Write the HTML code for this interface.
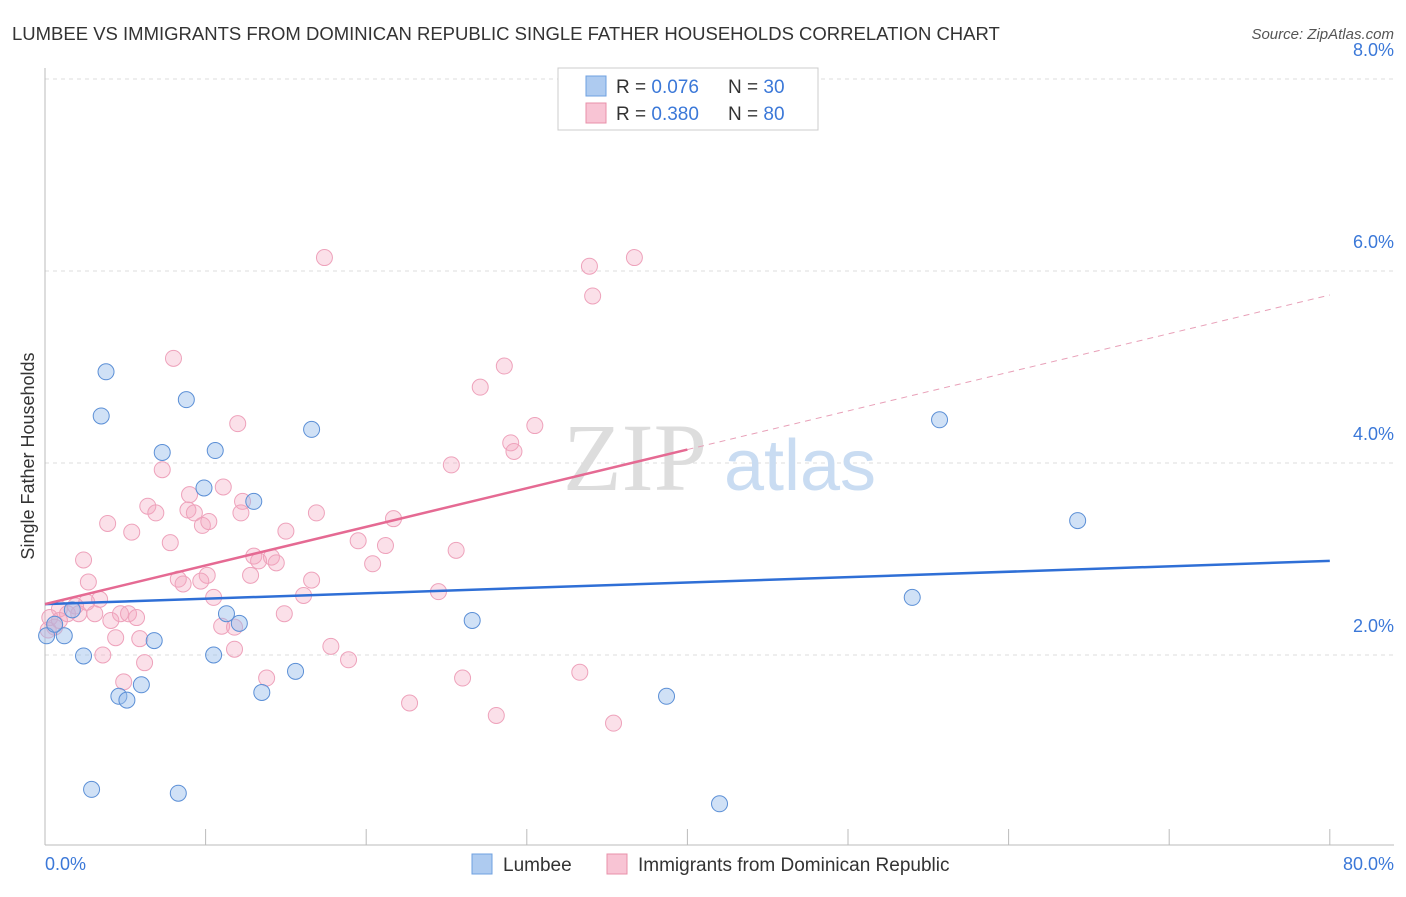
<!DOCTYPE html>
<html><head><meta charset="utf-8"><style>
body{margin:0;background:#fff;font-family:"Liberation Sans",sans-serif}
</style></head><body>
<svg id="chart" width="1406" height="892" xmlns="http://www.w3.org/2000/svg">
<text x="12" y="40" font-size="18.5" fill="#333">LUMBEE VS IMMIGRANTS FROM DOMINICAN REPUBLIC SINGLE FATHER HOUSEHOLDS CORRELATION CHART</text>
<text x="1394" y="39" font-size="15" fill="#555" font-style="italic" text-anchor="end">Source: ZipAtlas.com</text>
<g id="grid"></g>
<text x="635" y="490" font-size="96" fill="#ddd" font-family="Liberation Serif" text-anchor="middle">ZIP</text>
<text x="800" y="490" font-size="72" fill="#c9dcf2" text-anchor="middle">atlas</text>
<g id="marks"></g>
<text x="34" y="456" font-size="18" fill="#333" text-anchor="middle" transform="rotate(-90 34 456)">Single Father Households</text>
<text x="45" y="870" font-size="18" fill="#3b78d8">0.0%</text>
<text x="1394" y="870" font-size="18" fill="#3b78d8" text-anchor="end">80.0%</text>
<g>
<rect x="558" y="68" width="260" height="62" fill="#fff" stroke="#ccc"/>
<rect x="586" y="76" width="20" height="20" fill="#aecbf0" stroke="#6fa0e0"/>
<rect x="586" y="103" width="20" height="20" fill="#f8c4d4" stroke="#e890aa"/>
<text x="616" y="93" font-size="19" fill="#333">R = <tspan fill="#3b78d8">0.076</tspan></text>
<text x="728" y="93" font-size="19" fill="#333">N = <tspan fill="#3b78d8">30</tspan></text>
<text x="616" y="120" font-size="19" fill="#333">R = <tspan fill="#3b78d8">0.380</tspan></text>
<text x="728" y="120" font-size="19" fill="#333">N = <tspan fill="#3b78d8">80</tspan></text>
</g>
<g>
<rect x="472" y="854" width="20" height="20" fill="#aecbf0" stroke="#6fa0e0"/>
<text x="503" y="871" font-size="19" fill="#333">Lumbee</text>
<rect x="607" y="854" width="20" height="20" fill="#f8c4d4" stroke="#e890aa"/>
<text x="638" y="871" font-size="19" fill="#333">Immigrants from Dominican Republic</text>
</g>
</svg>
<script>
const yTicks=[2,4,6,8];
const yTickLabels=["2.0%","4.0%","6.0%","8.0%"];
const xTicks=[0,10,20,30,40,50,60,70,80];
const blueX=[3.8,3.5,8.8,7.3,10.6,16.6,9.9,13.0,11.3,12.1,6.8,2.4,10.5,15.6,6.0,4.6,5.1,13.5,26.6,38.7,2.9,8.3,42.0,54.0,55.7,64.3,0.1,1.2,0.6,1.7];
const blueY=[4.95,4.49,4.66,4.11,4.13,4.35,3.74,3.6,2.43,2.33,2.15,1.99,2.0,1.83,1.69,1.57,1.53,1.61,2.36,1.57,0.6,0.56,0.45,2.6,4.45,3.4,2.2,2.2,2.32,2.47];
const pinkX=[17.4,33.9,36.7,34.1,8.0,28.6,27.1,12.0,30.5,29.0,29.2,25.3,7.3,11.1,9.0,6.4,6.9,8.9,9.3,12.3,12.2,3.9,9.8,10.2,16.9,21.7,5.4,15.0,7.8,19.5,21.2,25.6,13.0,14.1,14.4,13.3,20.4,12.8,2.4,8.3,10.1,8.6,9.7,16.6,2.7,24.5,10.5,16.1,3.4,2.6,0.9,1.9,1.4,3.1,4.7,5.2,5.7,4.1,0.3,0.6,14.9,11.0,4.4,5.9,11.8,17.8,3.6,18.9,6.2,13.8,4.9,26.0,33.3,22.7,28.1,35.4,0.2,2.1,0.9,11.8];
const pinkY=[6.14,6.05,6.14,5.74,5.09,5.01,4.79,4.41,4.39,4.21,4.12,3.98,3.93,3.75,3.67,3.55,3.48,3.51,3.48,3.6,3.48,3.37,3.35,3.39,3.48,3.42,3.28,3.29,3.17,3.19,3.14,3.09,3.03,3.02,2.96,2.98,2.95,2.83,2.99,2.79,2.83,2.74,2.77,2.78,2.76,2.66,2.6,2.62,2.58,2.55,2.48,2.51,2.43,2.43,2.43,2.43,2.39,2.36,2.39,2.29,2.43,2.3,2.18,2.17,2.06,2.09,2.0,1.95,1.92,1.76,1.72,1.76,1.82,1.5,1.37,1.29,2.26,2.43,2.36,2.29];
const blueTrend=[2.53,2.98];
const pinkTrend=[2.53,5.75];
const pinkSolidEnd=40;
const X=v=>45+v*16.06, Y=v=>847-v*96;
const NS="http://www.w3.org/2000/svg";
function mk(tag,attrs,parent){const e=document.createElementNS(NS,tag);for(const k in attrs)e.setAttribute(k,attrs[k]);parent.appendChild(e);return e;}
const grid=document.getElementById('grid'), marks=document.getElementById('marks');
yTicks.forEach((t,i)=>{
 const l=mk('line',{x1:45,x2:1394,y1:Y(t),y2:Y(t),stroke:'#ddd','stroke-dasharray':'4 4'},grid);
 
 
 const tx=mk('text',{x:1394,y:Y(t)-23,'font-size':18,fill:'#3b78d8','text-anchor':'end'},grid);
 tx.textContent=yTickLabels[i];
 
 
});
const topLine=mk('line',{x1:45,x2:1394,y1:79,y2:79,stroke:'#ddd','stroke-dasharray':'4 4'},grid);


const ya=mk('line',{x1:45,x2:45,y1:68,y2:845,stroke:'#bbb'},grid);


const xa=mk('line',{x1:45,x2:1394,y1:845,y2:845,stroke:'#bbb'},grid);


xTicks.forEach(t=>{
 const l=mk('line',{x1:X(t),x2:X(t),y1:829,y2:845,stroke:'#bbb'},grid);
 
 
});
pinkX.forEach((x,i)=>{
 const c=mk('circle',{cx:X(x),cy:Y(pinkY[i]),r:8,fill:'rgba(244,167,191,0.35)',stroke:'#eea2bb','stroke-width':1},marks);
 
 
});
blueX.forEach((x,i)=>{
 const c=mk('circle',{cx:X(x),cy:Y(blueY[i]),r:8,fill:'rgba(150,188,235,0.45)',stroke:'#5b8fd6','stroke-width':1},marks);
 
 
});
const pv=x=>pinkTrend[0]+(pinkTrend[1]-pinkTrend[0])*x/80;
const bt=mk('line',{x1:X(0),y1:Y(blueTrend[0]),x2:X(80),y2:Y(blueTrend[1]),stroke:'#2f6fd6','stroke-width':2.5},marks);


const ps=mk('line',{x1:X(0),y1:Y(pv(0)),x2:X(pinkSolidEnd),y2:Y(pv(pinkSolidEnd)),stroke:'#e56a93','stroke-width':2.5},marks);


const pd=mk('line',{x1:X(pinkSolidEnd),y1:Y(pv(pinkSolidEnd)),x2:X(80),y2:Y(pv(80)),stroke:'#e8a0b8','stroke-width':1,'stroke-dasharray':'6 5'},marks);


</script>
</body></html>
